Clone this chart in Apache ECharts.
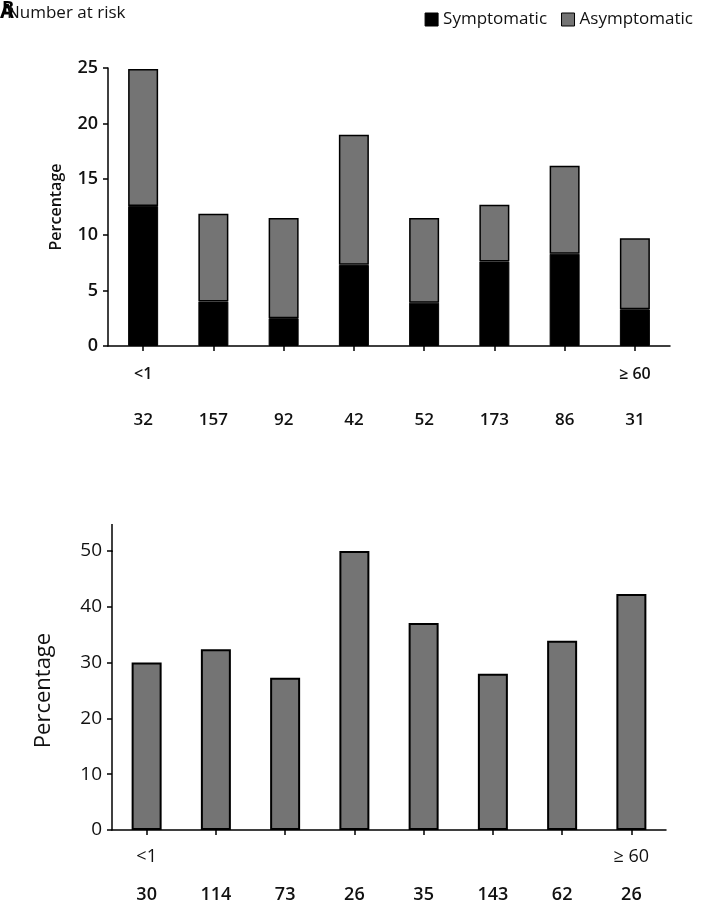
<!DOCTYPE html>
<html>
<head>
<meta charset="utf-8">
<script src="https://cdn.jsdelivr.net/npm/echarts@6/dist/echarts.min.js"></script>
<style>
  html, body { margin: 0; padding: 0; background: #fff; }
  #chart { width: 702px; height: 909px; }
</style>
</head>
<body>
<div id="chart"></div>
<script>
  // age groups (only the end ones are labelled)
  var ageLabels = ['<1', '', '', '', '', '', '', '≥ 60'];
  // panel A
  var riskA = ['32', '157', '92', '42', '52', '173', '86', '31'];
  var symptomaticA = [12.6, 4.0, 2.5, 7.3, 3.9, 7.6, 8.3, 3.3];
  var asymptomaticA = [12.3, 7.9, 9.0, 11.7, 7.6, 5.1, 7.9, 6.4];
  // panel B
  var riskB = ['30', '114', '73', '26', '35', '143', '62', '26'];
  var asymptomaticB = [30.0, 32.4, 27.3, 50.0, 37.1, 28.0, 33.9, 42.3];

  var font = '"Open Sans", "Noto Sans", sans-serif';
  var grey = '#747474';

  var myChart = echarts.init(document.getElementById('chart'));

  function catAxis(gridIndex, labels, offset, margin, size, weight) {
    return {
      type: 'category',
      gridIndex: gridIndex,
      position: 'bottom',
      data: labels,
      offset: offset,
      axisLine: { show: offset === 0, lineStyle: { color: '#000', width: 1.5 } },
      axisTick: { show: offset === 0, alignWithLabel: true, length: 5, lineStyle: { color: '#000', width: 1.5 } },
      axisLabel: { color: '#111', fontSize: size, fontWeight: weight, fontFamily: font, margin: margin, interval: 0 }
    };
  }

  myChart.setOption({
    animation: false,
    title: {
      text: 'Number at risk',
      left: 2,
      top: 0,
      textStyle: { fontSize: 17, fontWeight: 'normal', color: '#111', fontFamily: font }
    },
    legend: {
      right: 4,
      top: 6,
      icon: 'rect',
      itemWidth: 13,
      itemHeight: 13,
      itemGap: 14,
      textStyle: { fontSize: 17, color: '#111', fontFamily: font },
      data: [
        { name: 'Symptomatic', itemStyle: { color: '#000', borderColor: '#000', borderWidth: 1 } },
        { name: 'Asymptomatic', itemStyle: { color: grey, borderColor: '#000', borderWidth: 1 } }
      ]
    },
    graphic: [
      { type: 'text', left: 0, top: 2, style: { text: 'A', fontSize: 20, fontWeight: 'bold', fill: '#000', fontFamily: font } },
      { type: 'text', left: 2, top: 0, style: { text: 'B', fontSize: 18, fontWeight: 'bold', fill: '#000', fontFamily: font } },
      // y axis of panel B runs a little past 50
      { type: 'line', shape: { x1: 112, y1: 524, x2: 112, y2: 552 }, style: { stroke: '#000', lineWidth: 1.5 } }
    ],
    grid: [
      { left: 108, right: 32, top: 68, bottom: 563 },
      { left: 112, right: 36, top: 551, bottom: 79 }
    ],
    xAxis: [
      catAxis(0, ageLabels, 0, 20, 16, 600),
      catAxis(0, riskA, 66, 0, 17, 600),
      catAxis(1, ageLabels, 0, 18, 18, 'normal'),
      catAxis(1, riskB, 56, 0, 18, 600)
    ],
    yAxis: [
      {
        type: 'value', gridIndex: 0, min: 0, max: 25, interval: 5,
        name: 'Percentage', nameLocation: 'middle', nameGap: 44,
        nameTextStyle: { fontSize: 16, fontWeight: 600, color: '#111', fontFamily: font },
        splitLine: { show: false },
        axisLine: { show: true, lineStyle: { color: '#000', width: 1.5 } },
        axisTick: { show: true, length: 5, lineStyle: { color: '#000', width: 1.5 } },
        axisLabel: { fontSize: 18, fontWeight: 600, color: '#111', fontFamily: font, margin: 10 }
      },
      {
        type: 'value', gridIndex: 1, min: 0, max: 50, interval: 10,
        name: 'Percentage', nameLocation: 'middle', nameGap: 57,
        nameTextStyle: { fontSize: 22, color: '#111', fontFamily: font },
        splitLine: { show: false },
        axisLine: { show: true, lineStyle: { color: '#000', width: 1.5 } },
        axisTick: { show: true, length: 5, lineStyle: { color: '#000', width: 1.5 } },
        axisLabel: { fontSize: 19, color: '#111', fontFamily: font, margin: 10 }
      }
    ],
    series: [
      {
        name: 'Symptomatic', type: 'bar', stack: 'a', xAxisIndex: 0, yAxisIndex: 0,
        barWidth: 30, data: symptomaticA,
        itemStyle: { color: '#000', borderColor: '#000', borderWidth: 1 }
      },
      {
        name: 'Asymptomatic', type: 'bar', stack: 'a', xAxisIndex: 0, yAxisIndex: 0,
        barWidth: 30, data: asymptomaticA,
        itemStyle: { color: grey, borderColor: '#000', borderWidth: 1.5 }
      },
      {
        name: 'Asymptomatic', type: 'bar', xAxisIndex: 2, yAxisIndex: 1,
        barWidth: 30, data: asymptomaticB,
        itemStyle: { color: grey, borderColor: '#000', borderWidth: 2 }
      }
    ]
  });
</script>
</body>
</html>
